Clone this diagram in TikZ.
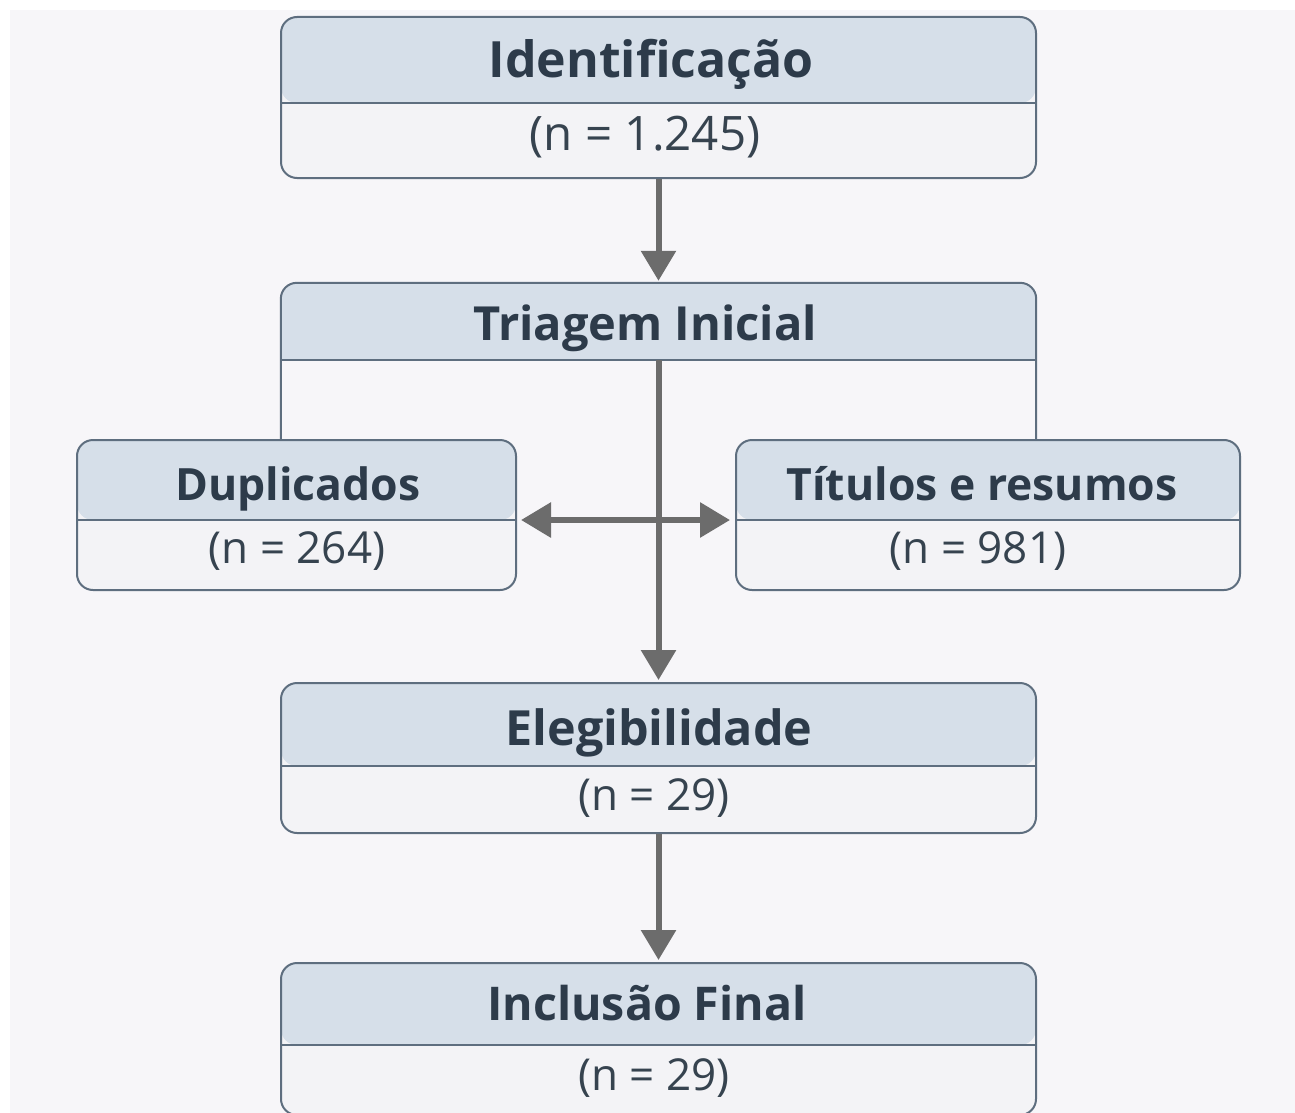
\documentclass[tikz,border=0pt]{standalone}
\usepackage{fontspec}
\setmainfont{Open Sans}
\usepackage{tikz}
\usetikzlibrary{arrows.meta,positioning}
\definecolor{pgpage}{HTML}{F7F6F9}
\definecolor{pgedge}{HTML}{5E6E7F}
\definecolor{pghead}{HTML}{D6DFE9}
\definecolor{pgbody}{HTML}{F3F3F6}
\definecolor{pgtext}{HTML}{2D3B4A}
\definecolor{pgnum}{HTML}{36434F}
\definecolor{pgarrow}{HTML}{6C6C6C}
\tikzset{headh/.store in=\boxhead, headh=80pt}

\begin{document}
\begin{tikzpicture}[x=1pt,y=-1pt,
  box/.style={draw=pgedge,line width=2pt,fill=pgbody,rounded corners=16pt,
    inner sep=0pt,
    path picture={
      \fill[pghead] (path picture bounding box.north west)
        rectangle ([yshift=-\boxhead]path picture bounding box.north east);
      \draw[pgedge,line width=1.5pt] ([yshift=-\boxhead]path picture bounding box.north west)
        -- ([yshift=-\boxhead]path picture bounding box.north east);}},
  title/.style={anchor=base,text=pgtext,font=\bfseries\fontsize{#1}{#1}\selectfont},
  title/.default=46,
  count/.style={anchor=base,text=pgnum,font=\fontsize{#1}{#1}\selectfont},
  count/.default=44,
  flow/.style={-{Triangle[length=30pt,width=34pt]},line width=6pt,pgarrow},
  side/.style={pgedge,line width=2pt}]
  \useasboundingbox (0,0) rectangle (1295,1113);
  \fill[white] (0,0) rectangle (1295,1113);
  \fill[pgpage] (10,10) rectangle (1295,1113);
  % stages
  \node[box,headh=86pt,minimum width=755pt,minimum height=161pt] (idf) at (658.5,97.5) {};
  \node[title=50] (idf-t) at (651,78) {Identificação};
  \node[count=47.5] (idf-n) at (645,150) {(n = 1.245)};
  \node[fill=pghead,rounded corners=16pt,minimum width=755pt,minimum height=77pt] (tri) at (658.5,321.5) {};
  \fill[pghead] ([yshift=20pt]tri.south west) rectangle (tri.south east);
  \node[title=47] (tri-t) at (645,340) {Triagem Inicial};
  \node[box,minimum width=439pt,minimum height=150pt] (dup) at (296.5,515) {};
  \node[title=44.5] (dup-t) at (298,500) {Duplicados};
  \node[count] (dup-n) at (297,563) {(n = 264)};
  \node[box,minimum width=504pt,minimum height=150pt] (tit) at (988,515) {};
  \node[title=44.5] (tit-t) at (982,500) {Títulos e resumos};
  \node[count] (tit-n) at (978,563) {(n = 981)};
  \node[box,headh=83pt,minimum width=755pt,minimum height=150pt] (ele) at (658.5,758) {};
  \node[title=48.5] (ele-t) at (659,745) {Elegibilidade};
  \node[count] (ele-n) at (654,810) {(n = 29)};
  \node[box,headh=82pt,minimum width=755pt,minimum height=152pt] (inc) at (658.5,1039) {};
  \node[title=46.5] (inc-t) at (647,1020) {Inclusão Final};
  \node[count] (inc-n) at (654,1090) {(n = 29)};
  % triagem frame
  \draw[side,rounded corners=16pt] (tri.west |- dup.north) -- (tri.north west)
    -- (tri.north east) -- (tri.east |- tit.north);
  \draw[side,line width=1.5pt] (tri.south west) -- (tri.south east);
  % arrows
  \draw[flow] (idf.south) -- ([yshift=2pt]tri.north);
  \draw[flow] (tri.south) -- ([yshift=2pt]ele.north);
  \draw[flow,{Triangle[length=30pt,width=34pt]}-{Triangle[length=30pt,width=34pt]}]
    ([xshift=4pt,yshift=-5pt]dup.east) -- ([xshift=-5pt,yshift=-5pt]tit.west);
  \draw[flow] (ele.south) -- ([yshift=2pt]inc.north);
\end{tikzpicture}
\end{document}
